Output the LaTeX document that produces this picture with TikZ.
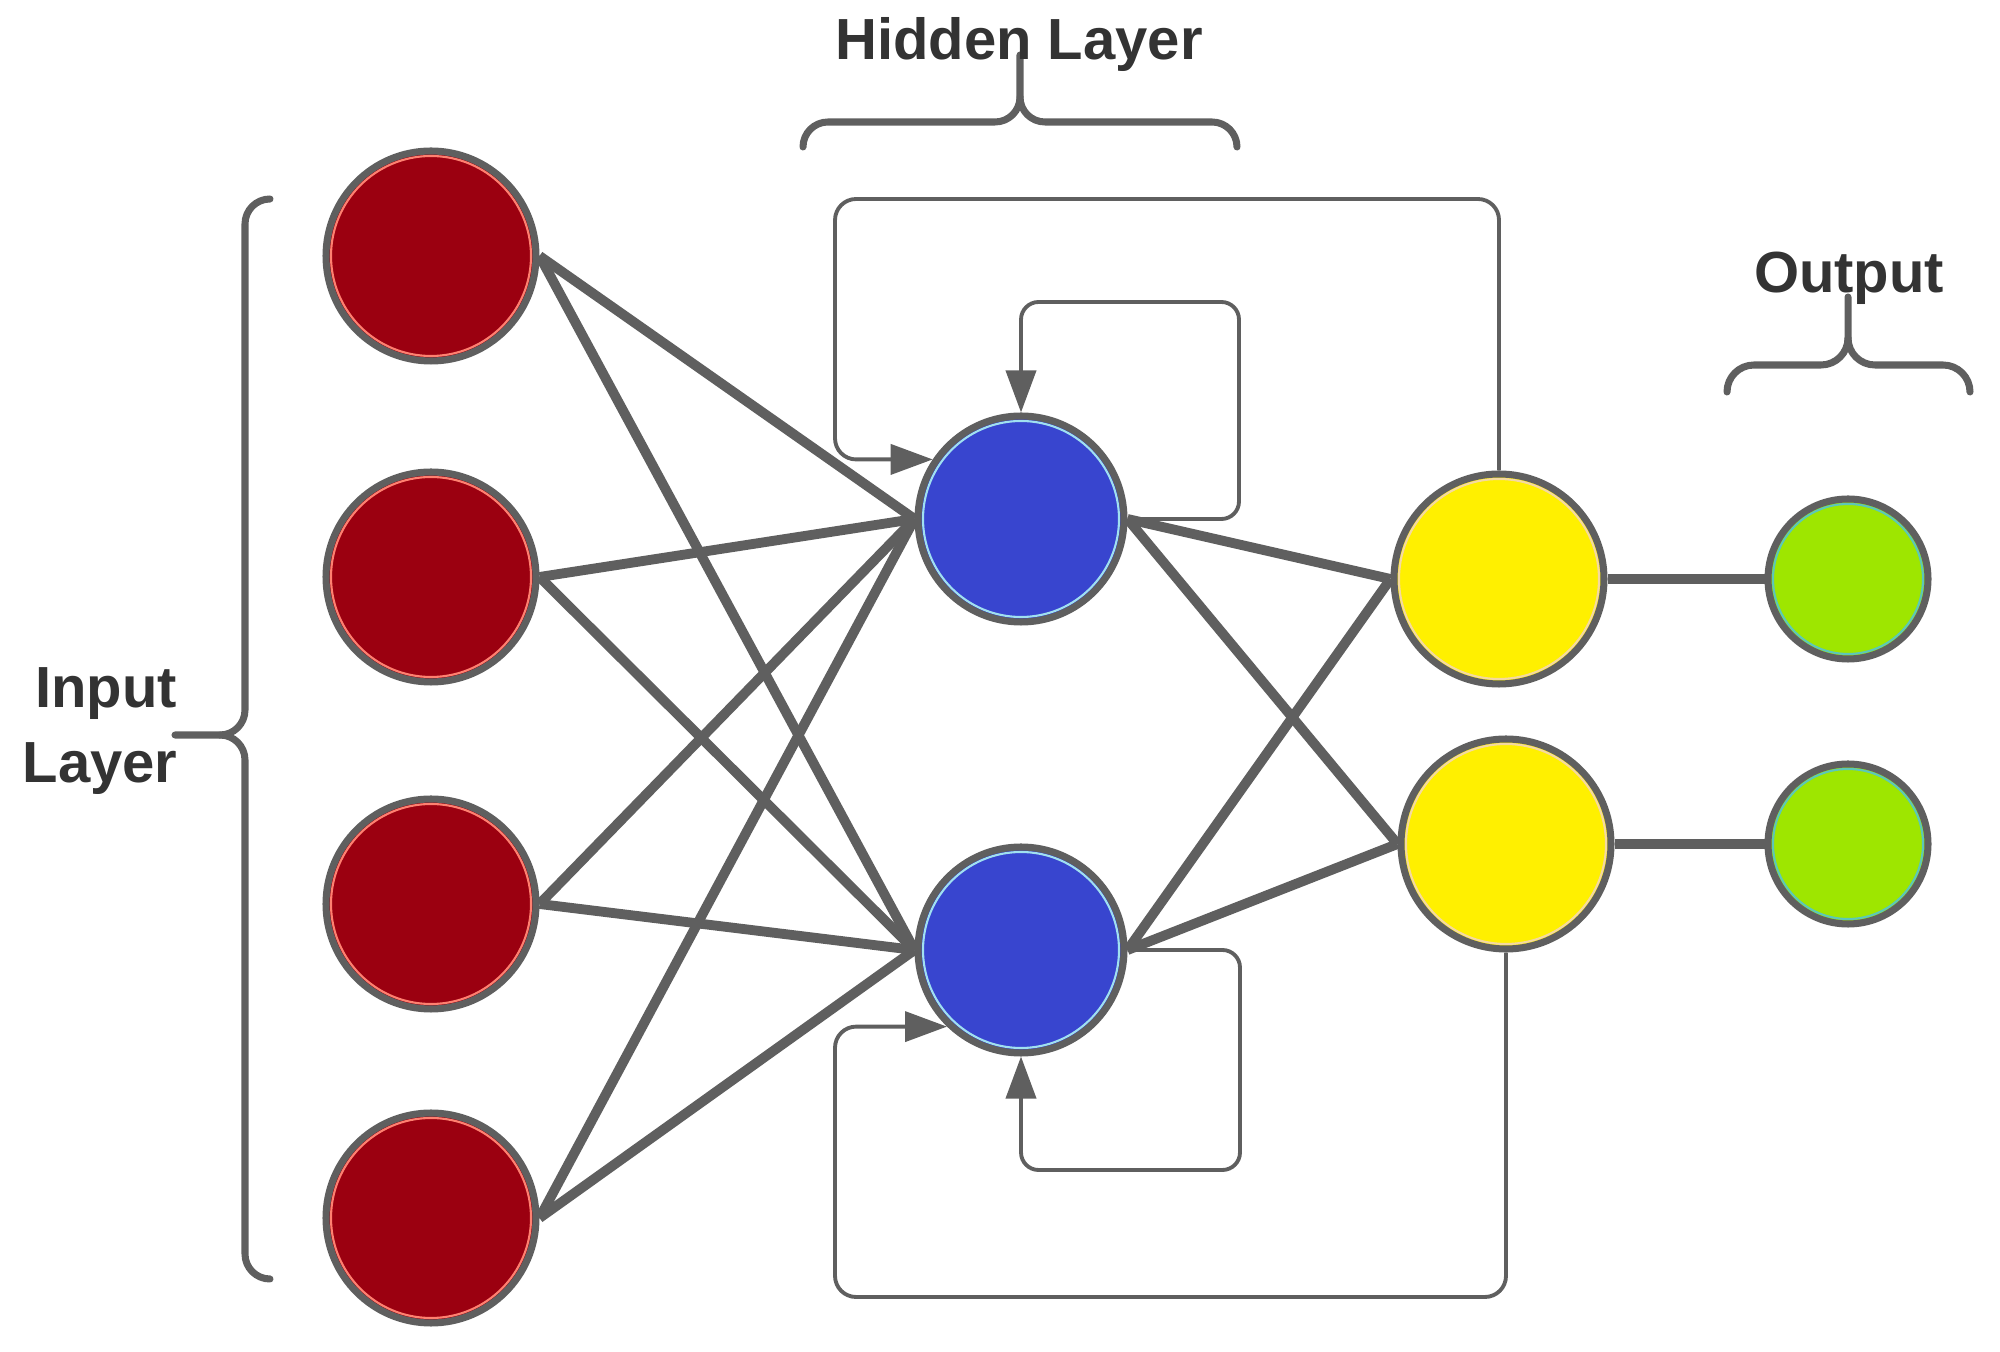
\documentclass[tikz,border=0pt]{standalone}
\usepackage{fontspec}
\setmainfont{Liberation Sans}
\usetikzlibrary{arrows.meta}
\definecolor{wire}{HTML}{5F5F5F}
\definecolor{txt}{HTML}{333333}
\definecolor{inred}{HTML}{9B0010}
\definecolor{inring}{HTML}{FF8070}
\definecolor{hidblue}{HTML}{3845CF}
\definecolor{hidring}{HTML}{A0E0F0}
\definecolor{sumyellow}{HTML}{FFF000}
\definecolor{sumring}{HTML}{F5D9A0}
\definecolor{outgreen}{HTML}{9EE600}
\definecolor{outring}{HTML}{5CC8B8}
\begin{document}
\begin{tikzpicture}[line join=round,
  neuron/.style={circle, draw=wire, line width=2pt, inner sep=0pt, minimum size=2.1cm},
  inN/.style={neuron, fill=inred, path picture={\draw[inring, line width=0.6pt] (path picture bounding box.center) circle (1.0cm);}},
  hidN/.style={neuron, fill=hidblue, minimum size=2.06cm, path picture={\draw[hidring, line width=0.6pt] (path picture bounding box.center) circle (0.98cm);}},
  sumN/.style={neuron, fill=sumyellow, path picture={\draw[sumring, line width=0.6pt] (path picture bounding box.center) circle (1.0cm);}},
  outN/.style={neuron, fill=outgreen, minimum size=1.6cm, path picture={\draw[outring, line width=0.6pt] (path picture bounding box.center) circle (0.75cm);}},
  syn/.style={draw=wire, line width=2.8pt},
  rec/.style={draw=wire, line width=1.1pt, rounded corners=5pt, -{Triangle[length=0.42cm, width=0.30cm]}},
  back/.style={draw=wire, line width=1.1pt, rounded corners=6pt},
  curly/.style={draw=wire, line width=2pt, line cap=round},
  lbl/.style={font=\fontsize{16.5}{20}\selectfont\bfseries, text=txt, inner sep=0pt}]
\useasboundingbox (0,0) rectangle (20,-13.52);
%
% input layer
\node[inN] (r1) at (4.31,-2.56) {};
\node[inN] (r2) at (4.31,-5.77) {};
\node[inN] (r3) at (4.31,-9.04) {};
\node[inN] (r4) at (4.31,-12.18) {};
%
% hidden layer
\node[hidN] (b1) at (10.21,-5.19) {};
\node[hidN] (b2) at (10.21,-9.50) {};
%
% summing and output
\node[sumN] (y1) at (14.99,-5.79) {};
\node[sumN] (y2) at (15.06,-8.44) {};
\node[outN] (g1) at (18.48,-5.79) {};
\node[outN] (g2) at (18.48,-8.44) {};
%
\foreach \i in {1,...,4}
  \foreach \j in {1,2}
    \draw[syn] (r\i.east) -- (b\j.west);
\foreach \i in {1,2}
  \foreach \j in {1,2}
    \draw[syn] (b\i.east) -- (y\j.west);
\draw[syn] (y1.east) -- (g1.west);
\draw[syn] (y2.east) -- (g2.west);
%
% self loops
\coordinate (st) at (12.39,-3.02);
\coordinate (sb) at (12.40,-11.70);
\draw[rec] (b1.east) -| (st) -| (b1.north);
\draw[rec] (b2.east) -| (sb) -| (b2.south);
%
% loops back from the yellow nodes
\coordinate (ot) at (8.35,-1.99);
\coordinate (ob) at (8.35,-12.97);
\draw[back, -{Triangle[length=0.42cm, width=0.30cm]}] (y1.north) |- (ot) |- (b1.146);
\draw[back, -{Triangle[length=0.42cm, width=0.30cm]}] (y2.south) |- (ob) |- (b2.226);
%
% braces
\draw[curly] (2.70,-1.99) arc[start angle=90, end angle=180, radius=0.25] -- (2.45,-7.10)
  arc[start angle=0, end angle=-90, radius=0.25] -- (1.75,-7.35);
\draw[curly] (2.70,-12.79) arc[start angle=-90, end angle=-180, radius=0.25] -- (2.45,-7.60)
  arc[start angle=0, end angle=90, radius=0.25];
\draw[curly] (8.03,-1.47) arc[start angle=180, end angle=90, radius=0.25] -- (9.95,-1.22)
  arc[start angle=-90, end angle=0, radius=0.25] -- (10.20,-0.55);
\draw[curly] (12.37,-1.47) arc[start angle=0, end angle=90, radius=0.25] -- (10.45,-1.22)
  arc[start angle=270, end angle=180, radius=0.25];
\draw[curly] (17.27,-3.92) arc[start angle=180, end angle=90, radius=0.27] -- (18.21,-3.65)
  arc[start angle=-90, end angle=0, radius=0.27] -- (18.48,-2.97);
\draw[curly] (19.70,-3.92) arc[start angle=0, end angle=90, radius=0.27] -- (18.75,-3.65)
  arc[start angle=270, end angle=180, radius=0.27];
%
% labels
\node[lbl, anchor=base] (hidlbl) at (10.19,-0.60) {Hidden Layer};
\node[lbl, anchor=base] (outlbl) at (18.49,-2.93) {Output};
\node[lbl, anchor=base] (inlbl) at (1.06,-7.08) {Input};
\node[lbl, anchor=base] (inlbltwo) at (1.00,-7.83) {Layer};
\end{tikzpicture}
\end{document}
